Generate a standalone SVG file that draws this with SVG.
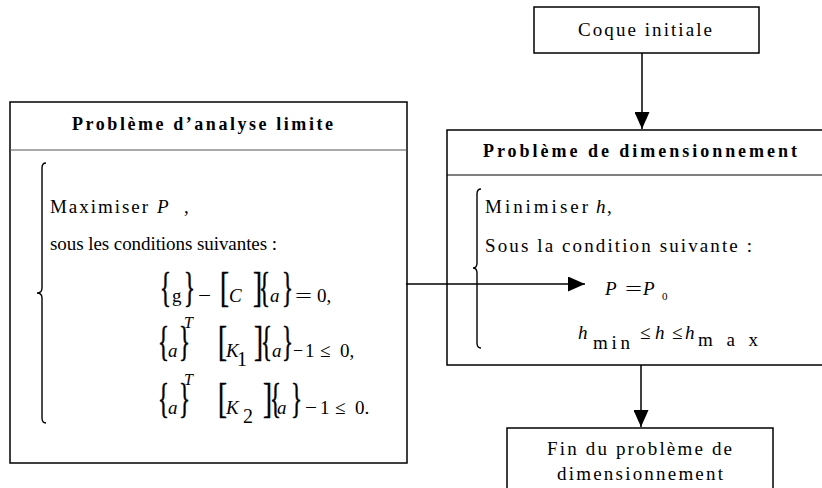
<svg xmlns="http://www.w3.org/2000/svg" width="822" height="488" viewBox="0 0 822 488">
<defs>
<style>
.box{fill:#fff;stroke:#000;stroke-width:1.5}
.div{stroke:#000;stroke-width:1.2;fill:none}
.t{font-family:"Liberation Serif","Times New Roman",serif;font-size:19px;fill:#000}
.b{font-family:"Liberation Serif","Times New Roman",serif;font-size:18px;font-weight:bold;fill:#000}
.i{font-style:italic}
.d{font-family:"Liberation Serif","Times New Roman",serif;font-size:42px;fill:#000;stroke:#000;stroke-width:0.6}
.brace{fill:none;stroke:#000;stroke-width:1.4}
.con{fill:none;stroke:#000;stroke-width:1.5}
</style>
<marker id="ah" markerUnits="userSpaceOnUse" markerWidth="17" markerHeight="15" refX="17" refY="7.5" orient="auto">
<path d="M0,0 L17,7.5 L0,15 z" fill="#000"/>
</marker>
</defs>
<rect width="822" height="488" fill="#fff"/>

<g id="coque">
<rect class="box" x="534" y="7" width="225" height="46"/>
<text class="t" x="578" y="36" textLength="134" lengthAdjust="spacing">Coque initiale</text>
</g>

<g id="analyse">
<rect class="box" x="10" y="102" width="397" height="361"/>
<line x1="10" y1="150" x2="407" y2="150" stroke="#555" stroke-width="1"/>
<text class="b" x="72" y="130" textLength="261" lengthAdjust="spacing">Problème d’analyse limite</text>
<path class="brace" d="M46 163 Q42 163 42 168 L42 288 Q42 293 37 293 Q42 293 42 298 L42 418 Q42 423 46 423"/>
<text class="t" x="50" y="213" textLength="98" lengthAdjust="spacing">Maximiser</text>
<text class="t i" x="157" y="213">P</text>
<text class="t" x="184" y="213">,</text>
<text class="t" x="50" y="250" textLength="227" lengthAdjust="spacing">sous les conditions suivantes :</text>
<!-- line 1 -->
<text class="d" x="160" y="301" textLength="11" lengthAdjust="spacingAndGlyphs">{</text>
<text class="t" x="172" y="302">g</text>
<text class="d" x="184" y="301" textLength="11" lengthAdjust="spacingAndGlyphs">}</text>
<text class="t" x="198" y="302" textLength="13" lengthAdjust="spacingAndGlyphs">−</text>
<text class="d" x="220" y="301" textLength="9" lengthAdjust="spacingAndGlyphs">[</text>
<text class="t i" x="229" y="302">C</text>
<text class="d" x="253" y="301" textLength="9" lengthAdjust="spacingAndGlyphs">]</text>
<text class="d" x="259" y="301" textLength="11" lengthAdjust="spacingAndGlyphs">{</text>
<text class="t i" x="270" y="302">a</text>
<text class="d" x="282" y="301" textLength="11" lengthAdjust="spacingAndGlyphs">}</text>
<text class="t" x="295" y="302" textLength="17" lengthAdjust="spacingAndGlyphs">=</text>
<text class="t" x="317" y="302">0,</text>
<!-- line 2 -->
<text class="d" x="158" y="355" textLength="11" lengthAdjust="spacingAndGlyphs">{</text>
<text class="t i" x="168" y="357">a</text>
<text class="d" x="179" y="355" textLength="11" lengthAdjust="spacingAndGlyphs">}</text>
<text class="t i" x="184" y="328" style="font-size:16px">T</text>
<text class="d" x="218" y="355" textLength="9" lengthAdjust="spacingAndGlyphs">[</text>
<text class="t i" x="226" y="357">K</text>
<text class="t" x="237" y="366" style="font-size:20px">1</text>
<text class="d" x="254" y="355" textLength="9" lengthAdjust="spacingAndGlyphs">]</text>
<text class="d" x="261" y="355" textLength="11" lengthAdjust="spacingAndGlyphs">{</text>
<text class="t i" x="272" y="357">a</text>
<text class="d" x="282" y="355" textLength="11" lengthAdjust="spacingAndGlyphs">}</text>
<text class="t" x="293" y="357" textLength="10" lengthAdjust="spacingAndGlyphs">−</text>
<text class="t" x="305" y="357">1</text>
<text class="t" x="320" y="357">≤</text>
<text class="t" x="340" y="357">0,</text>
<!-- line 3 -->
<text class="d" x="158" y="412" textLength="11" lengthAdjust="spacingAndGlyphs">{</text>
<text class="t i" x="168" y="414">a</text>
<text class="d" x="179" y="412" textLength="11" lengthAdjust="spacingAndGlyphs">}</text>
<text class="t i" x="184" y="385" style="font-size:16px">T</text>
<text class="d" x="218" y="412" textLength="9" lengthAdjust="spacingAndGlyphs">[</text>
<text class="t i" x="226" y="414">K</text>
<text class="t" x="243" y="423" style="font-size:20px">2</text>
<text class="d" x="263" y="412" textLength="9" lengthAdjust="spacingAndGlyphs">]</text>
<text class="d" x="270" y="412" textLength="11" lengthAdjust="spacingAndGlyphs">{</text>
<text class="t i" x="277" y="414">a</text>
<text class="d" x="291" y="412" textLength="11" lengthAdjust="spacingAndGlyphs">}</text>
<text class="t" x="305" y="414" textLength="12" lengthAdjust="spacingAndGlyphs">−</text>
<text class="t" x="320" y="414">1</text>
<text class="t" x="335" y="414">≤</text>
<text class="t" x="355" y="414">0.</text>
</g>

<g id="dimensionnement">
<rect class="box" x="447" y="130" width="390" height="235"/>
<line class="div" x1="447" y1="175" x2="822" y2="175"/>
<text class="b" x="483" y="157" textLength="314" lengthAdjust="spacing">Problème de dimensionnement</text>
<path class="brace" d="M481 189 Q477 189 477 194 L477 263 Q477 268 473 268 Q477 268 477 273 L477 343 Q477 348 481 348"/>
<text class="t" x="485" y="213" textLength="103" lengthAdjust="spacing">Minimiser</text>
<text class="t i" x="596" y="213">h</text>
<text class="t" x="607" y="213">,</text>
<text class="t" x="485" y="252" textLength="267" lengthAdjust="spacing">Sous la condition suivante :</text>
<text class="t i" x="605" y="295">P</text>
<text class="t" x="625" y="295" textLength="17" lengthAdjust="spacingAndGlyphs">=</text>
<text class="t i" x="643" y="295">P</text>
<text class="t" x="662" y="300" style="font-size:11px">0</text>
<text class="t i" x="578" y="339">h</text>
<text class="t" x="593" y="349" textLength="37" lengthAdjust="spacing">min</text>
<text class="t" x="640" y="339">≤</text>
<text class="t i" x="655" y="339">h</text>
<text class="t" x="672" y="339">≤</text>
<text class="t i" x="685" y="339">h</text>
<text class="t" x="698" y="346" textLength="60" lengthAdjust="spacing">max</text>
</g>

<g id="fin">
<rect class="box" x="507" y="428" width="266" height="70"/>
<text class="t" x="547" y="455" textLength="185" lengthAdjust="spacing">Fin du problème de</text>
<text class="t" x="557" y="480" textLength="166" lengthAdjust="spacing">dimensionnement</text>
</g>

<g id="connectors">
<path class="con" d="M642 53 L642 129" marker-end="url(#ah)"/>
<path class="con" d="M641 365 L641 427" marker-end="url(#ah)"/>
<path class="con" d="M406 284 L585 284" marker-end="url(#ah)"/>
</g>
</svg>
